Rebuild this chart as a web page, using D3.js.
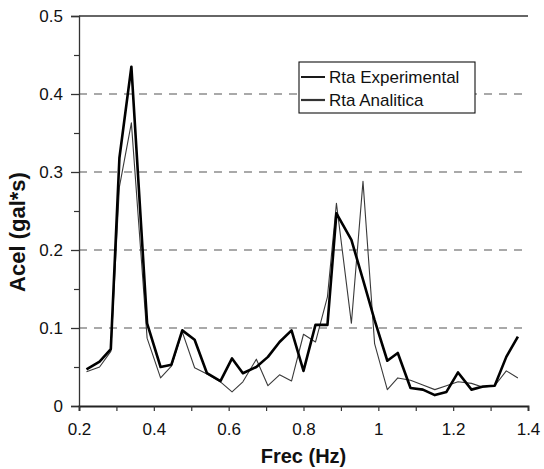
<!DOCTYPE html>
<html>
<head>
<meta charset="utf-8">
<script src="https://cdn.jsdelivr.net/npm/d3@7"></script>
<style>
  html, body { margin: 0; padding: 0; background: #fff; }
  svg { display: block; }
  text { font-family: "Liberation Sans", Arial, sans-serif; fill: #111; }
</style>
</head>
<body>
<svg id="chart" width="544" height="469"></svg>
<script>
// ---- data ----
const frequencies = [0.220, 0.255, 0.285, 0.308, 0.340, 0.382, 0.418, 0.447, 0.476, 0.509,
  0.542, 0.578, 0.609, 0.638, 0.674, 0.705, 0.736, 0.768, 0.800, 0.832,
  0.864, 0.888, 0.928, 0.959, 0.990, 1.024, 1.052, 1.086, 1.119, 1.151,
  1.182, 1.213, 1.249, 1.280, 1.311, 1.342, 1.373];
const experimental = [0.047, 0.057, 0.073, 0.318, 0.435, 0.106, 0.050, 0.053, 0.097, 0.085,
  0.042, 0.032, 0.061, 0.042, 0.050, 0.063, 0.082, 0.097, 0.045, 0.104,
  0.104, 0.247, 0.213, 0.162, 0.110, 0.058, 0.068, 0.023, 0.021, 0.014,
  0.018, 0.043, 0.021, 0.025, 0.026, 0.063, 0.089];
const analitica = [0.044, 0.050, 0.070, 0.281, 0.363, 0.087, 0.036, 0.051, 0.095, 0.049,
  0.041, 0.031, 0.018, 0.031, 0.060, 0.026, 0.040, 0.032, 0.092, 0.082,
  0.140, 0.260, 0.106, 0.288, 0.080, 0.021, 0.036, 0.033, 0.027, 0.021,
  0.026, 0.031, 0.029, 0.024, 0.026, 0.045, 0.036];
const seriesNames = ["Rta Experimental", "Rta Analitica"];
const xTickValues = [0.2, 0.3, 0.4, 0.5, 0.6, 0.7, 0.8, 0.9, 1.0, 1.1, 1.2, 1.3, 1.4];
const xLabelValues = [0.2, 0.4, 0.6, 0.8, 1.0, 1.2, 1.4];
const yTickValues = [0, 0.1, 0.2, 0.3, 0.4, 0.5];
const yMinorValues = [0.05, 0.15, 0.25, 0.35, 0.45];
const xTitle = "Frec (Hz)";
const yTitle = "Acel (gal*s)";

// ---- layout ----
const svg = d3.select("#chart");
const x = d3.scaleLinear().domain([0.2, 1.4]).range([79, 528]);
const y = d3.scaleLinear().domain([0, 0.5]).range([406, 16]);
const fmt = v => (Math.abs(v - Math.round(v)) < 1e-9 ? d3.format("d")(v) : d3.format(".1f")(v));
const FONT = '"Liberation Sans", Arial, sans-serif';

// gridlines (dashed)
svg.append("g").selectAll("line")
  .data([0.1, 0.2, 0.3, 0.4]).join("line")
  .attr("x1", x(0.2)).attr("x2", x(1.4))
  .attr("y1", d => y(d)).attr("y2", d => y(d))
  .attr("stroke", "#555").attr("stroke-width", 1.1)
  .attr("stroke-dasharray", "8,7");

// top border line at 0.5
svg.append("line")
  .attr("x1", x(0.2)).attr("x2", x(1.4))
  .attr("y1", y(0.5)).attr("y2", y(0.5))
  .attr("stroke", "#333").attr("stroke-width", 1.3);

// y axis
const yAxis = svg.append("g").attr("transform", `translate(${x(0.2)},0)`)
  .call(d3.axisLeft(y).tickValues(yTickValues).tickFormat(fmt).tickSize(8).tickPadding(8));
yAxis.select(".domain").attr("stroke", "#333").attr("stroke-width", 1.3);
yAxis.selectAll(".tick line").attr("stroke", "#333").attr("stroke-width", 1.3);
yAxis.selectAll("text").attr("font-size", 17).attr("fill", "#111").style("font-family", FONT);
const yMinor = svg.append("g").attr("transform", `translate(${x(0.2)},0)`)
  .call(d3.axisLeft(y).tickValues(yMinorValues).tickFormat("").tickSize(5));
yMinor.select(".domain").remove();
yMinor.selectAll(".tick line").attr("stroke", "#333").attr("stroke-width", 1.2);

// x axis
const xAxis = svg.append("g").attr("transform", `translate(0,${y(0)})`)
  .call(d3.axisBottom(x).tickValues(xTickValues)
    .tickFormat(d => xLabelValues.some(v => Math.abs(v - d) < 1e-9) ? fmt(d) : "")
    .tickSize(5).tickPadding(12));
xAxis.select(".domain").attr("stroke", "#222").attr("stroke-width", 1.8);
xAxis.selectAll(".tick line").attr("stroke", "#333").attr("stroke-width", 1.2);
xAxis.selectAll("text").attr("font-size", 17).attr("fill", "#111").style("font-family", FONT);

// series
const pts = vals => frequencies.map((f, i) => [f, vals[i]]);
const line = d3.line().x(d => x(d[0])).y(d => y(d[1]));
svg.append("path").datum(pts(analitica))
  .attr("d", line).attr("fill", "none")
  .attr("stroke", "#3a3a3a").attr("stroke-width", 1.1).attr("stroke-linejoin", "round");
svg.append("path").datum(pts(experimental))
  .attr("d", line).attr("fill", "none")
  .attr("stroke", "#000").attr("stroke-width", 2.6).attr("stroke-linejoin", "round");

// legend
const lg = svg.append("g").attr("transform", "translate(299,62)");
lg.append("rect").attr("width", 176).attr("height", 51)
  .attr("fill", "#fff").attr("stroke", "#111").attr("stroke-width", 1.1);
const legendStyles = [{w: 1.8, c: "#000"}, {w: 2.2, c: "#333"}];
seriesNames.forEach((name, i) => {
  const yy = 15 + i * 23;
  lg.append("line").attr("x1", 2).attr("x2", 26).attr("y1", yy).attr("y2", yy)
    .attr("stroke", legendStyles[i].c).attr("stroke-width", legendStyles[i].w);
  lg.append("text").attr("x", 30).attr("y", yy).attr("dy", "0.35em")
    .attr("font-size", 17).text(name);
});

// axis titles
svg.append("text").attr("x", (x(0.2) + x(1.4)) / 2).attr("y", 463)
  .attr("text-anchor", "middle").attr("font-size", 20).attr("font-weight", "bold")
  .text(xTitle);
svg.append("text").attr("transform", `translate(25,232) rotate(-90)`)
  .attr("text-anchor", "middle").attr("font-size", 22).attr("font-weight", "bold")
  .text(yTitle);
</script>
</body>
</html>
